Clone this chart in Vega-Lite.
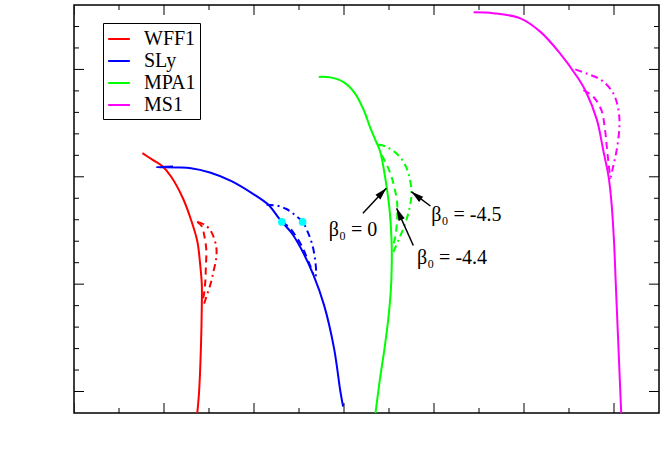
{
  "$schema": "https://vega.github.io/schema/vega-lite/v6.json",
  "width": 585,
  "height": 408,
  "autosize": {"type": "none"},
  "padding": {"left": 74, "top": 5, "right": 1, "bottom": 45},
  "background": "white",
  "config": {
    "view": {"stroke": "black", "strokeWidth": 1.5},
    "axis": {
      "zindex": 1,
      "grid": false,
      "domainColor": "black",
      "domainWidth": 1.5,
      "labelColor": "black",
      "titleColor": "black",
      "labelFont": "Liberation Serif, Times New Roman, Times, serif",
      "titleFont": "Liberation Serif, Times New Roman, Times, serif",
      "labelFontSize": 17,
      "titleFontSize": 20,
      "titleFontWeight": "normal"
    }
  },
  "datasets": {
    "curves": [
      {"EOS": "WFF1", "branch": "solid", "R": 10.37, "M": 0.9},
      {"EOS": "WFF1", "branch": "solid", "R": 10.39, "M": 1.0},
      {"EOS": "WFF1", "branch": "solid", "R": 10.41, "M": 1.2},
      {"EOS": "WFF1", "branch": "solid", "R": 10.42, "M": 1.4},
      {"EOS": "WFF1", "branch": "solid", "R": 10.42, "M": 1.5},
      {"EOS": "WFF1", "branch": "solid", "R": 10.40, "M": 1.6},
      {"EOS": "WFF1", "branch": "solid", "R": 10.37, "M": 1.7},
      {"EOS": "WFF1", "branch": "solid", "R": 10.30, "M": 1.8},
      {"EOS": "WFF1", "branch": "solid", "R": 10.21, "M": 1.9},
      {"EOS": "WFF1", "branch": "solid", "R": 10.08, "M": 2.0},
      {"EOS": "WFF1", "branch": "solid", "R": 9.98, "M": 2.05},
      {"EOS": "WFF1", "branch": "solid", "R": 9.87, "M": 2.08},
      {"EOS": "WFF1", "branch": "solid", "R": 9.76, "M": 2.11},
      {"EOS": "WFF1", "branch": "dashed", "R": 10.37, "M": 1.79},
      {"EOS": "WFF1", "branch": "dashed", "R": 10.42, "M": 1.77},
      {"EOS": "WFF1", "branch": "dashed", "R": 10.45, "M": 1.72},
      {"EOS": "WFF1", "branch": "dashed", "R": 10.47, "M": 1.66},
      {"EOS": "WFF1", "branch": "dashed", "R": 10.465, "M": 1.58},
      {"EOS": "WFF1", "branch": "dashed", "R": 10.46, "M": 1.52},
      {"EOS": "WFF1", "branch": "dashed", "R": 10.45, "M": 1.47},
      {"EOS": "WFF1", "branch": "dashed", "R": 10.43, "M": 1.42},
      {"EOS": "WFF1", "branch": "dashdot", "R": 10.37, "M": 1.79},
      {"EOS": "WFF1", "branch": "dashdot", "R": 10.46, "M": 1.775},
      {"EOS": "WFF1", "branch": "dashdot", "R": 10.53, "M": 1.74},
      {"EOS": "WFF1", "branch": "dashdot", "R": 10.58, "M": 1.675},
      {"EOS": "WFF1", "branch": "dashdot", "R": 10.58, "M": 1.62},
      {"EOS": "WFF1", "branch": "dashdot", "R": 10.55, "M": 1.56},
      {"EOS": "WFF1", "branch": "dashdot", "R": 10.52, "M": 1.505},
      {"EOS": "WFF1", "branch": "dashdot", "R": 10.47, "M": 1.44},
      {"EOS": "WFF1", "branch": "dashdot", "R": 10.43, "M": 1.39},
      {"EOS": "SLy", "branch": "solid", "R": 9.92, "M": 2.045},
      {"EOS": "SLy", "branch": "solid", "R": 10.1, "M": 2.048},
      {"EOS": "SLy", "branch": "solid", "R": 10.3, "M": 2.04},
      {"EOS": "SLy", "branch": "solid", "R": 10.51, "M": 2.02},
      {"EOS": "SLy", "branch": "solid", "R": 10.75, "M": 1.98},
      {"EOS": "SLy", "branch": "solid", "R": 11.01, "M": 1.915},
      {"EOS": "SLy", "branch": "solid", "R": 11.16, "M": 1.87},
      {"EOS": "SLy", "branch": "solid", "R": 11.29, "M": 1.80},
      {"EOS": "SLy", "branch": "solid", "R": 11.42, "M": 1.737},
      {"EOS": "SLy", "branch": "solid", "R": 11.53, "M": 1.66},
      {"EOS": "SLy", "branch": "solid", "R": 11.66, "M": 1.543},
      {"EOS": "SLy", "branch": "solid", "R": 11.78, "M": 1.4},
      {"EOS": "SLy", "branch": "solid", "R": 11.89, "M": 1.2},
      {"EOS": "SLy", "branch": "solid", "R": 11.96, "M": 1.0},
      {"EOS": "SLy", "branch": "solid", "R": 11.99, "M": 0.93},
      {"EOS": "SLy", "branch": "dashed", "R": 11.31, "M": 1.79},
      {"EOS": "SLy", "branch": "dashed", "R": 11.39, "M": 1.765},
      {"EOS": "SLy", "branch": "dashed", "R": 11.47, "M": 1.72},
      {"EOS": "SLy", "branch": "dashed", "R": 11.54, "M": 1.67},
      {"EOS": "SLy", "branch": "dashed", "R": 11.59, "M": 1.62},
      {"EOS": "SLy", "branch": "dashed", "R": 11.63, "M": 1.58},
      {"EOS": "SLy", "branch": "dashed", "R": 11.66, "M": 1.545},
      {"EOS": "SLy", "branch": "dashdot", "R": 11.14, "M": 1.87},
      {"EOS": "SLy", "branch": "dashdot", "R": 11.26, "M": 1.865},
      {"EOS": "SLy", "branch": "dashdot", "R": 11.36, "M": 1.85},
      {"EOS": "SLy", "branch": "dashdot", "R": 11.46, "M": 1.82},
      {"EOS": "SLy", "branch": "dashdot", "R": 11.54, "M": 1.79},
      {"EOS": "SLy", "branch": "dashdot", "R": 11.60, "M": 1.74},
      {"EOS": "SLy", "branch": "dashdot", "R": 11.65, "M": 1.68},
      {"EOS": "SLy", "branch": "dashdot", "R": 11.68, "M": 1.61},
      {"EOS": "SLy", "branch": "dashdot", "R": 11.69, "M": 1.55},
      {"EOS": "SLy", "branch": "dashdot", "R": 11.68, "M": 1.53},
      {"EOS": "MPA1", "branch": "solid", "R": 11.72, "M": 2.465},
      {"EOS": "MPA1", "branch": "solid", "R": 11.85, "M": 2.463},
      {"EOS": "MPA1", "branch": "solid", "R": 12.0, "M": 2.44},
      {"EOS": "MPA1", "branch": "solid", "R": 12.12, "M": 2.39},
      {"EOS": "MPA1", "branch": "solid", "R": 12.22, "M": 2.31},
      {"EOS": "MPA1", "branch": "solid", "R": 12.29, "M": 2.23},
      {"EOS": "MPA1", "branch": "solid", "R": 12.35, "M": 2.17},
      {"EOS": "MPA1", "branch": "solid", "R": 12.40, "M": 2.12},
      {"EOS": "MPA1", "branch": "solid", "R": 12.46, "M": 1.99},
      {"EOS": "MPA1", "branch": "solid", "R": 12.51, "M": 1.83},
      {"EOS": "MPA1", "branch": "solid", "R": 12.53, "M": 1.68},
      {"EOS": "MPA1", "branch": "solid", "R": 12.53, "M": 1.58},
      {"EOS": "MPA1", "branch": "solid", "R": 12.52, "M": 1.47},
      {"EOS": "MPA1", "branch": "solid", "R": 12.49, "M": 1.33},
      {"EOS": "MPA1", "branch": "solid", "R": 12.45, "M": 1.2},
      {"EOS": "MPA1", "branch": "solid", "R": 12.40, "M": 1.06},
      {"EOS": "MPA1", "branch": "solid", "R": 12.35, "M": 0.9},
      {"EOS": "MPA1", "branch": "dashed", "R": 12.42, "M": 2.10},
      {"EOS": "MPA1", "branch": "dashed", "R": 12.47, "M": 2.06},
      {"EOS": "MPA1", "branch": "dashed", "R": 12.52, "M": 2.01},
      {"EOS": "MPA1", "branch": "dashed", "R": 12.56, "M": 1.95},
      {"EOS": "MPA1", "branch": "dashed", "R": 12.59, "M": 1.88},
      {"EOS": "MPA1", "branch": "dashed", "R": 12.59, "M": 1.80},
      {"EOS": "MPA1", "branch": "dashed", "R": 12.57, "M": 1.72},
      {"EOS": "MPA1", "branch": "dashed", "R": 12.54, "M": 1.67},
      {"EOS": "MPA1", "branch": "dashdot", "R": 12.38, "M": 2.15},
      {"EOS": "MPA1", "branch": "dashdot", "R": 12.47, "M": 2.14},
      {"EOS": "MPA1", "branch": "dashdot", "R": 12.58, "M": 2.11},
      {"EOS": "MPA1", "branch": "dashdot", "R": 12.66, "M": 2.07},
      {"EOS": "MPA1", "branch": "dashdot", "R": 12.72, "M": 2.01},
      {"EOS": "MPA1", "branch": "dashdot", "R": 12.75, "M": 1.92},
      {"EOS": "MPA1", "branch": "dashdot", "R": 12.72, "M": 1.84},
      {"EOS": "MPA1", "branch": "dashdot", "R": 12.67, "M": 1.77},
      {"EOS": "MPA1", "branch": "dashdot", "R": 12.61, "M": 1.71},
      {"EOS": "MPA1", "branch": "dashdot", "R": 12.55, "M": 1.65},
      {"EOS": "MS1", "branch": "solid", "R": 13.44, "M": 2.766},
      {"EOS": "MS1", "branch": "solid", "R": 13.66, "M": 2.762},
      {"EOS": "MS1", "branch": "solid", "R": 13.96, "M": 2.738},
      {"EOS": "MS1", "branch": "solid", "R": 14.18, "M": 2.676},
      {"EOS": "MS1", "branch": "solid", "R": 14.4, "M": 2.575},
      {"EOS": "MS1", "branch": "solid", "R": 14.59, "M": 2.466},
      {"EOS": "MS1", "branch": "solid", "R": 14.69, "M": 2.395},
      {"EOS": "MS1", "branch": "solid", "R": 14.81, "M": 2.265},
      {"EOS": "MS1", "branch": "solid", "R": 14.88, "M": 2.125},
      {"EOS": "MS1", "branch": "solid", "R": 14.94, "M": 2.0},
      {"EOS": "MS1", "branch": "solid", "R": 14.97, "M": 1.89},
      {"EOS": "MS1", "branch": "solid", "R": 15.0, "M": 1.7},
      {"EOS": "MS1", "branch": "solid", "R": 15.02, "M": 1.5},
      {"EOS": "MS1", "branch": "solid", "R": 15.04, "M": 1.3},
      {"EOS": "MS1", "branch": "solid", "R": 15.06, "M": 1.1},
      {"EOS": "MS1", "branch": "solid", "R": 15.08, "M": 0.9},
      {"EOS": "MS1", "branch": "dashed", "R": 14.66, "M": 2.404},
      {"EOS": "MS1", "branch": "dashed", "R": 14.77, "M": 2.373},
      {"EOS": "MS1", "branch": "dashed", "R": 14.86, "M": 2.31},
      {"EOS": "MS1", "branch": "dashed", "R": 14.9, "M": 2.22},
      {"EOS": "MS1", "branch": "dashed", "R": 14.92, "M": 2.14},
      {"EOS": "MS1", "branch": "dashed", "R": 14.94, "M": 2.06},
      {"EOS": "MS1", "branch": "dashed", "R": 14.96, "M": 1.99},
      {"EOS": "MS1", "branch": "dashdot", "R": 14.57, "M": 2.5},
      {"EOS": "MS1", "branch": "dashdot", "R": 14.70, "M": 2.48},
      {"EOS": "MS1", "branch": "dashdot", "R": 14.86, "M": 2.45},
      {"EOS": "MS1", "branch": "dashdot", "R": 14.99, "M": 2.39},
      {"EOS": "MS1", "branch": "dashdot", "R": 15.05, "M": 2.31},
      {"EOS": "MS1", "branch": "dashdot", "R": 15.06, "M": 2.233},
      {"EOS": "MS1", "branch": "dashdot", "R": 15.03, "M": 2.125},
      {"EOS": "MS1", "branch": "dashdot", "R": 14.99, "M": 2.047},
      {"EOS": "MS1", "branch": "dashdot", "R": 14.96, "M": 1.99}
    ],
    "dots": [
      {"R": 11.31, "M": 1.79},
      {"R": 11.54, "M": 1.79}
    ],
    "arrows": [
      {"n": "a", "R": 12.21, "M": 1.83, "R2": 12.47, "M2": 1.947},
      {"n": "c", "R": 12.96, "M": 1.864, "R2": 12.75, "M2": 1.93},
      {"n": "b", "R": 12.77, "M": 1.68, "R2": 12.585, "M2": 1.853}
    ],
    "labels": [
      {"lab": "β₀ = 0", "R": 12.1, "M": 1.752},
      {"lab": "β₀ = -4.5", "R": 13.36, "M": 1.822},
      {"lab": "β₀ = -4.4", "R": 13.2, "M": 1.622}
    ],
    "xmajor": [{"t": 9}, {"t": 10}, {"t": 11}, {"t": 12}, {"t": 13}, {"t": 14}, {"t": 15}],
    "xminor": [{"t": 9.5}, {"t": 10.5}, {"t": 11.5}, {"t": 12.5}, {"t": 13.5}, {"t": 14.5}],
    "ymajor": [{"t": 1}, {"t": 1.5}, {"t": 2}, {"t": 2.5}],
    "yminor": [{"t": 1.1}, {"t": 1.2}, {"t": 1.3}, {"t": 1.4}, {"t": 1.6}, {"t": 1.7}, {"t": 1.8}, {"t": 1.9}, {"t": 2.1}, {"t": 2.2}, {"t": 2.3}, {"t": 2.4}, {"t": 2.6}, {"t": 2.7}]
  },
  "layer": [
    {
      "data": {"name": "curves"},
      "transform": [{"filter": "datum.branch === 'solid'"}],
      "mark": {"type": "line", "strokeWidth": 2, "clip": true, "interpolate": "catmull-rom"},
      "encoding": {
        "x": {"field": "R", "type": "quantitative", "scale": {"domain": [9, 15.5], "nice": false, "zero": false},
          "axis": {"orient": "bottom", "values": [9, 10, 11, 12, 13, 14, 15], "format": "d", "ticks": false, "labelPadding": 6, "title": "R [km]", "titlePadding": 3}},
        "y": {"field": "M", "type": "quantitative", "scale": {"domain": [0.9, 2.8], "nice": false, "zero": false},
          "axis": {"orient": "left", "values": [1, 1.5, 2, 2.5], "format": "~g", "ticks": false, "labelPadding": 8, "title": "M [M⊙]", "titlePadding": 8}},
        "color": {"field": "EOS", "type": "nominal",
          "scale": {"domain": ["WFF1", "SLy", "MPA1", "MS1"], "range": ["#ff0000", "#0000ff", "#00ff00", "#ff00ff"]},
          "legend": {"orient": "none", "legendX": 29, "legendY": 18, "title": null, "strokeColor": "black", "fillColor": "white", "padding": 4, "symbolType": "stroke", "symbolSize": 470, "symbolStrokeWidth": 2, "labelFont": "Liberation Serif, Times New Roman, Times, serif", "labelFontSize": 20, "labelColor": "black", "rowPadding": 0, "labelOffset": 13, "cornerRadius": 0}},
        "order": {"field": "M", "sort": "descending"}
      }
    },
    {
      "data": {"name": "curves"},
      "transform": [{"filter": "datum.branch === 'dashed'"}],
      "mark": {"type": "line", "strokeWidth": 2, "strokeDash": [7, 5], "clip": true, "interpolate": "catmull-rom"},
      "encoding": {
        "x": {"field": "R", "type": "quantitative", "axis": null},
        "y": {"field": "M", "type": "quantitative", "axis": null},
        "color": {"field": "EOS", "type": "nominal", "legend": null},
        "order": {"field": "M", "sort": "descending"}
      }
    },
    {
      "data": {"name": "curves"},
      "transform": [{"filter": "datum.branch === 'dashdot'"}],
      "mark": {"type": "line", "strokeWidth": 2, "strokeDash": [7, 4, 2, 4], "clip": true, "interpolate": "catmull-rom"},
      "encoding": {
        "x": {"field": "R", "type": "quantitative", "axis": null},
        "y": {"field": "M", "type": "quantitative", "axis": null},
        "color": {"field": "EOS", "type": "nominal", "legend": null},
        "order": {"field": "M", "sort": "descending"}
      }
    },
    {
      "data": {"name": "xmajor"},
      "mark": {"type": "tick", "orient": "vertical", "size": 20, "thickness": 1, "color": "black", "opacity": 1, "clip": true},
      "encoding": {
        "x": {"field": "t", "type": "quantitative", "axis": null},
        "y": {"datum": 0.9, "type": "quantitative", "axis": null}
      }
    },
    {
      "data": {"name": "xmajor"},
      "mark": {"type": "tick", "orient": "vertical", "size": 20, "thickness": 1, "color": "black", "opacity": 1, "clip": true},
      "encoding": {
        "x": {"field": "t", "type": "quantitative", "axis": null},
        "y": {"datum": 2.8, "type": "quantitative", "axis": null}
      }
    },
    {
      "data": {"name": "xminor"},
      "mark": {"type": "tick", "orient": "vertical", "size": 10, "thickness": 1, "color": "black", "opacity": 1, "clip": true},
      "encoding": {
        "x": {"field": "t", "type": "quantitative", "axis": null},
        "y": {"datum": 0.9, "type": "quantitative", "axis": null}
      }
    },
    {
      "data": {"name": "xminor"},
      "mark": {"type": "tick", "orient": "vertical", "size": 10, "thickness": 1, "color": "black", "opacity": 1, "clip": true},
      "encoding": {
        "x": {"field": "t", "type": "quantitative", "axis": null},
        "y": {"datum": 2.8, "type": "quantitative", "axis": null}
      }
    },
    {
      "data": {"name": "ymajor"},
      "mark": {"type": "tick", "orient": "horizontal", "size": 20, "thickness": 1, "color": "black", "opacity": 1, "clip": true},
      "encoding": {
        "y": {"field": "t", "type": "quantitative", "axis": null},
        "x": {"datum": 9, "type": "quantitative", "axis": null}
      }
    },
    {
      "data": {"name": "ymajor"},
      "mark": {"type": "tick", "orient": "horizontal", "size": 20, "thickness": 1, "color": "black", "opacity": 1, "clip": true},
      "encoding": {
        "y": {"field": "t", "type": "quantitative", "axis": null},
        "x": {"datum": 15.5, "type": "quantitative", "axis": null}
      }
    },
    {
      "data": {"name": "yminor"},
      "mark": {"type": "tick", "orient": "horizontal", "size": 10, "thickness": 1, "color": "black", "opacity": 1, "clip": true},
      "encoding": {
        "y": {"field": "t", "type": "quantitative", "axis": null},
        "x": {"datum": 9, "type": "quantitative", "axis": null}
      }
    },
    {
      "data": {"name": "yminor"},
      "mark": {"type": "tick", "orient": "horizontal", "size": 10, "thickness": 1, "color": "black", "opacity": 1, "clip": true},
      "encoding": {
        "y": {"field": "t", "type": "quantitative", "axis": null},
        "x": {"datum": 15.5, "type": "quantitative", "axis": null}
      }
    },
    {
      "data": {"name": "dots"},
      "mark": {"type": "point", "filled": true, "color": "#00ffff", "size": 60, "opacity": 1},
      "encoding": {
        "x": {"field": "R", "type": "quantitative", "axis": null},
        "y": {"field": "M", "type": "quantitative", "axis": null}
      }
    },
    {
      "data": {"name": "arrows"},
      "mark": {"type": "rule", "color": "black", "strokeWidth": 1.5},
      "encoding": {
        "x": {"field": "R", "type": "quantitative", "axis": null},
        "y": {"field": "M", "type": "quantitative", "axis": null},
        "x2": {"field": "R2"},
        "y2": {"field": "M2"}
      }
    },
    {
      "data": {"name": "arrows"},
      "mark": {"type": "point", "filled": true, "color": "black", "opacity": 1, "size": 150, "shape": "M0,0L-0.55,2L0.55,2Z"},
      "encoding": {
        "x": {"field": "R2", "type": "quantitative", "axis": null},
        "y": {"field": "M2", "type": "quantitative", "axis": null},
        "angle": {"condition": [{"test": "datum.n === 'a'", "value": 43}, {"test": "datum.n === 'c'", "value": 308}], "value": 336}
      }
    },
    {
      "data": {"name": "labels"},
      "mark": {"type": "text", "font": "Liberation Serif, Times New Roman, Times, serif", "fontSize": 20, "color": "black", "align": "center", "baseline": "middle"},
      "encoding": {
        "x": {"field": "R", "type": "quantitative", "axis": null},
        "y": {"field": "M", "type": "quantitative", "axis": null},
        "text": {"field": "lab"}
      }
    }
  ]
}
